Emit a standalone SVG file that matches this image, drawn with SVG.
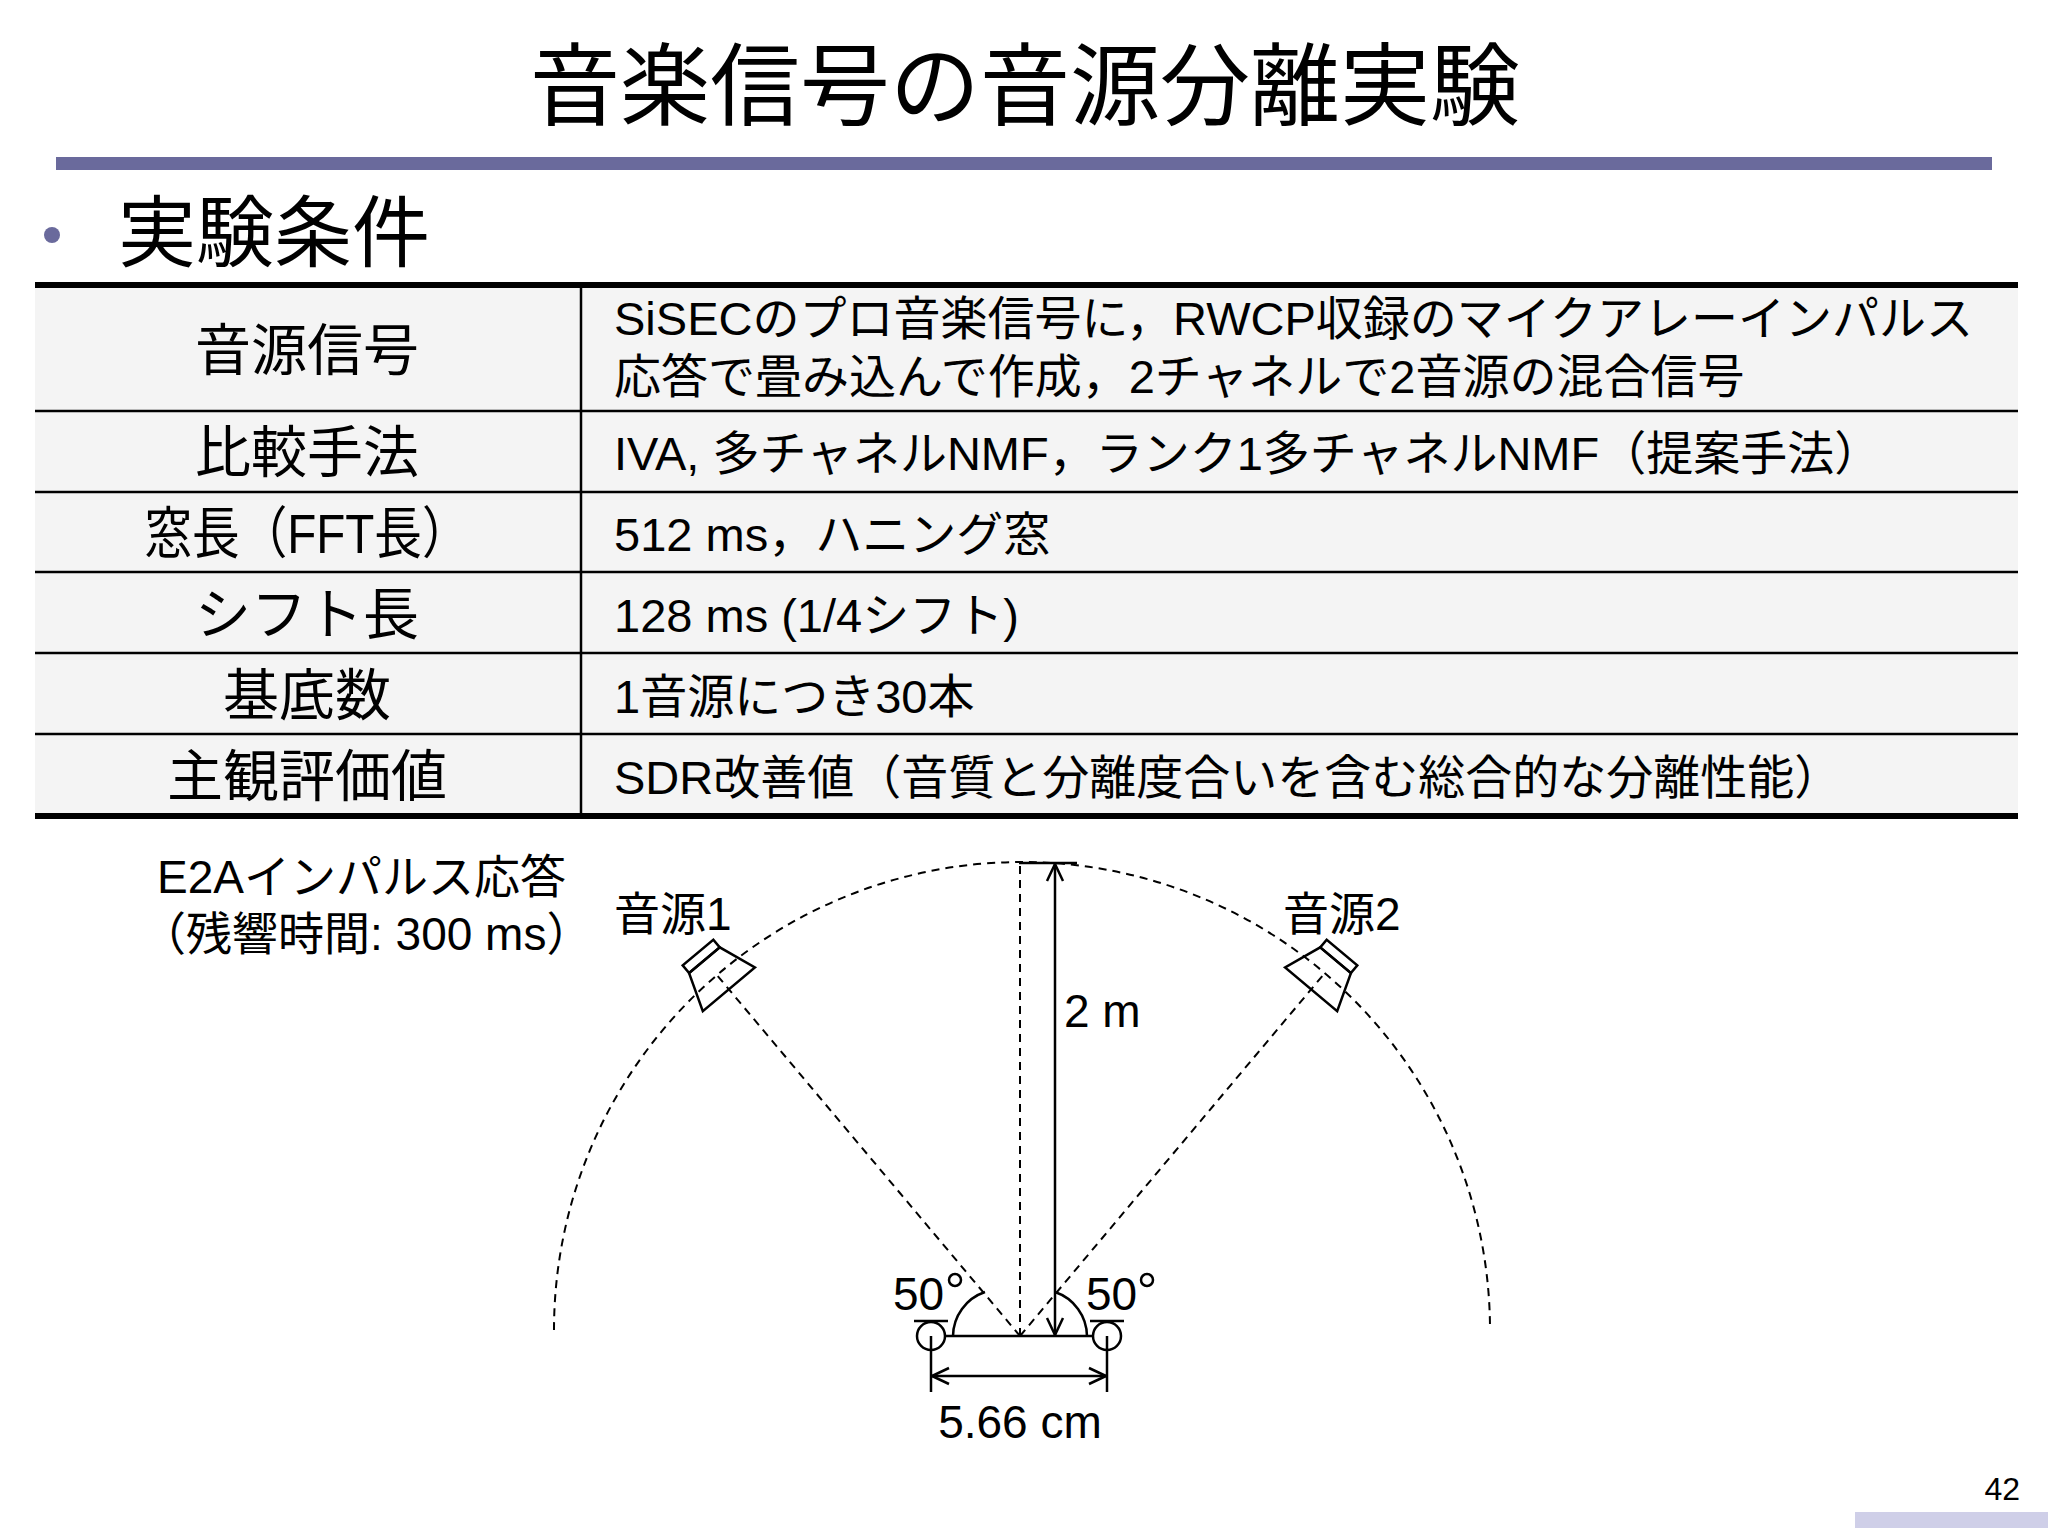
<svg xmlns="http://www.w3.org/2000/svg" width="2048" height="1536" viewBox="0 0 2048 1536">
<style>
text{font-family:"Liberation Sans","Noto Sans CJK JP",sans-serif;fill:#000}
.c{font-size:56px;text-anchor:middle}
.r{font-size:47px}
.d{font-size:46px}
.ln{stroke:#000;stroke-width:2.5;fill:none}
.ds{stroke:#000;stroke-width:2;fill:none;stroke-dasharray:8,6}
</style>
<defs>
<marker id="ah" viewBox="0 0 20 20" refX="19" refY="10" markerWidth="20" markerHeight="20" markerUnits="userSpaceOnUse" orient="auto"><path d="M2,2 L19,10 L2,18" fill="none" stroke="#000" stroke-width="2.5"/></marker>
<g id="spk"><rect x="-20" y="-28" width="40" height="10" class="ln" fill="#fff"/><path d="M-20,-18 L20,-18 L34,20 L-34,20 Z" class="ln" fill="#fff"/></g>
</defs>
<rect width="2048" height="1536" fill="#fff"/>
<text x="1025" y="118" font-size="90" text-anchor="middle">音楽信号の音源分離実験</text>
<rect x="56" y="157" width="1936" height="13" fill="#6a6a9c"/>
<circle cx="52" cy="235" r="8" fill="#6a6a9c"/>
<text x="118" y="261" font-size="78">実験条件</text>
<g id="table">
<rect x="35" y="285" width="1983" height="531" fill="#f4f4f4"/>
<g stroke="#000" stroke-width="2.5">
<line x1="35" y1="411" x2="2018" y2="411"/><line x1="35" y1="492" x2="2018" y2="492"/><line x1="35" y1="572" x2="2018" y2="572"/><line x1="35" y1="653" x2="2018" y2="653"/><line x1="35" y1="734" x2="2018" y2="734"/><line x1="581" y1="285" x2="581" y2="816"/>
</g>
<line x1="35" y1="285" x2="2018" y2="285" stroke="#000" stroke-width="6"/>
<line x1="35" y1="816" x2="2018" y2="816" stroke="#000" stroke-width="6"/>
<text class="c" x="307" y="370">音源信号</text>
<text class="c" x="307" y="472">比較手法</text>
<text class="c" x="307" y="553" textLength="325" lengthAdjust="spacingAndGlyphs">窓長（FFT長）</text>
<text class="c" x="307" y="634">シフト長</text>
<text class="c" x="307" y="715">基底数</text>
<text class="c" x="307" y="796">主観評価値</text>
<text class="r" x="614" y="335">SiSECのプロ音楽信号に，RWCP収録のマイクアレーインパルス</text>
<text class="r" x="614" y="393">応答で畳み込んで作成，2チャネルで2音源の混合信号</text>
<text class="r" x="614" y="470">IVA, 多チャネルNMF，ランク1多チャネルNMF（提案手法）</text>
<text class="r" x="614" y="551">512 ms，ハニング窓</text>
<text class="r" x="614" y="632">128 ms (1/4シフト)</text>
<text class="r" x="614" y="713">1音源につき30本</text>
<text class="r" x="614" y="794">SDR改善値（音質と分離度合いを含む総合的な分離性能）</text>
</g>
<g id="diagram">
<path d="M554,1330 A468,468 0 0 1 1490,1330" class="ds"/>
<line x1="1020" y1="1336" x2="1020" y2="866" class="ds"/>
<line x1="1020" y1="1336" x2="716" y2="974" class="ds"/>
<line x1="1020" y1="1336" x2="1324" y2="974" class="ds"/>
<line x1="1019" y1="863" x2="1077" y2="863" class="ln"/>
<line x1="1055" y1="1100" x2="1055" y2="864" class="ln" marker-end="url(#ah)"/>
<line x1="1055" y1="1100" x2="1055" y2="1335" class="ln" marker-end="url(#ah)"/>
<line x1="946" y1="1336" x2="1092" y2="1336" class="ln"/>
<path d="M953,1336 A47,47 0 0 1 985,1292" class="ln"/>
<path d="M1087,1336 A47,47 0 0 0 1055,1292" class="ln"/>
<circle cx="931" cy="1336" r="14" class="ln"/><circle cx="1107" cy="1336" r="14" class="ln"/>
<line x1="914" y1="1321" x2="948" y2="1321" class="ln" stroke-width="4"/>
<line x1="1090" y1="1321" x2="1124" y2="1321" class="ln" stroke-width="4"/>
<line x1="931" y1="1336" x2="931" y2="1392" class="ln"/><line x1="1107" y1="1336" x2="1107" y2="1392" class="ln"/>
<line x1="1020" y1="1376" x2="932" y2="1376" class="ln" marker-end="url(#ah)"/>
<line x1="1020" y1="1376" x2="1106" y2="1376" class="ln" marker-end="url(#ah)"/>
<use href="#spk" transform="translate(716,974) rotate(-40)"/>
<use href="#spk" transform="translate(1324,974) rotate(40)"/>
<text class="d" x="1020" y="1438" text-anchor="middle">5.66 cm</text>
<text class="d" x="1064" y="1027">2 m</text>
<text class="d" x="893" y="1310">50</text><circle cx="955" cy="1280" r="6" class="ln" stroke-width="2"/>
<text class="d" x="1086" y="1310">50</text><circle cx="1147" cy="1280" r="6" class="ln" stroke-width="2"/>
<text class="d" x="157" y="893">E2Aインパルス応答</text>
<text class="d" x="140" y="950">（残響時間: 300 ms）</text>
<text class="d" x="614" y="930">音源1</text>
<text class="d" x="1283" y="930">音源2</text>
</g>
<text x="2020" y="1500" font-size="32" text-anchor="end">42</text>
<rect x="1855" y="1512" width="193" height="16" fill="#cfcfe8"/>
</svg>
